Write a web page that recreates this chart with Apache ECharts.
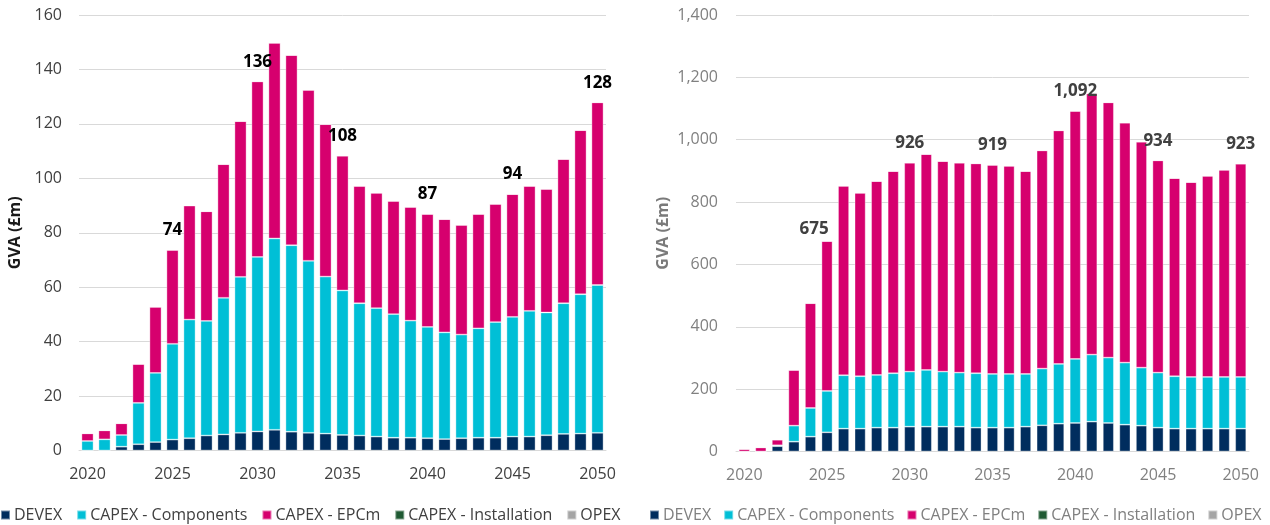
<!DOCTYPE html>
<html>
<head>
<meta charset="utf-8">
<script src="https://cdn.jsdelivr.net/npm/echarts@6/dist/echarts.min.js"></script>
<style>
html,body{margin:0;padding:0;background:#fff;}
#chart{width:1270px;height:525px;}
</style>
</head>
<body>
<div id="chart"></div>
<script>
const years = [];
for (let y = 2020; y <= 2050; y++) years.push(String(y));
const labelYears = ['2025','2030','2035','2040','2045','2050'];
const seriesNames = ['DEVEX','CAPEX - Components','CAPEX - EPCm','CAPEX - Installation','OPEX'];

// Left chart (GVA £m)
const leftDevex = [0,0,1.4,2.3,3.1,4.0,4.5,5.5,5.9,6.5,7.0,7.6,6.9,6.5,6.2,5.7,5.5,5.1,4.7,4.7,4.5,4.2,4.5,4.7,4.7,5.1,5.1,5.6,6.1,6.2,6.5];
const leftComp = [3.5,4.1,4.3,15.2,25.4,35.2,43.6,42.1,50.2,57.3,64.1,70.3,68.5,63.2,57.7,53.1,48.6,47.2,45.4,43.0,40.9,39.2,38.1,40.2,42.5,44.0,46.2,45.1,48.0,51.2,54.3];
const leftEpcm = [2.8,3.3,4.3,14.3,24.3,34.5,41.9,40.3,49.1,57.2,64.5,71.9,69.9,62.8,56.0,49.5,43.1,42.4,41.6,41.8,41.5,41.6,40.3,42.0,43.4,45.1,45.9,45.4,53.0,60.3,67.1];
const leftInstall = years.map(() => 0);
const leftOpex = years.map(() => 0);

// Right chart (GVA £m)
const rightDevex = [0,0,17,31.5,47.6,61.5,73.3,73.3,76.5,76.5,79.7,79.7,79.7,79.7,76.5,76.5,76.5,79.7,84.0,89.3,91.5,95.8,91.5,86.1,82.9,76.5,73.3,73.3,73.3,73.3,73.3];
const rightComp = [0,0,3,51.4,92.0,132.7,171.2,168.0,169.1,174.4,176.6,181.9,176.6,173.3,174.5,172.3,172.3,169.1,181.9,191.6,205.5,215.0,209.7,199.0,186.1,176.5,168.0,165.9,165.9,165.9,165.9];
const rightEpcm = [8,13,18,178.7,336.1,481.0,607.8,588.6,621.8,648.6,669.9,692.4,675.3,673.2,673.0,670.6,667.7,650.7,699.8,749.0,795.2,837.9,818.6,769.5,724.6,680.8,635.7,625.0,645.2,664.5,683.9];
const rightInstall = years.map(() => 0);
const rightOpex = years.map(() => 0);

const colors = ['#002d5e','#00bfd6','#d6006e','#1f5a33','#a5a5a5'];
const FONT = '"Open Sans", sans-serif';

function totals(a,b,c,d,e){ return a.map((v,i)=>v+b[i]+c[i]+d[i]+e[i]); }
const leftTotals = totals(leftDevex,leftComp,leftEpcm,leftInstall,leftOpex);
const rightTotals = totals(rightDevex,rightComp,rightEpcm,rightInstall,rightOpex);

function fmt(v){ return Math.round(v).toLocaleString('en-US'); }

function buildSeries(idx, arrays, tot, labelColor, specialOffsets, barW){
  return arrays.map((arr, k) => {
    const s = {
      name: seriesNames[k],
      type: 'bar',
      stack: 'st' + idx,
      xAxisIndex: idx,
      yAxisIndex: idx,
      barWidth: barW,
      itemStyle: { color: colors[k], borderColor: 'rgba(255,255,255,0.45)', borderWidth: 0.8 },
      emphasis: { disabled: true },
      data: arr.slice()
    };
    if (k === 2) {
      s.data = arr.map((v, i) => {
        const item = { value: v };
        if (specialOffsets[years[i]]) item.label = { offset: specialOffsets[years[i]] };
        return item;
      });
      s.label = {
        show: true,
        position: 'top',
        distance: 11,
        fontFamily: FONT,
        fontSize: 17,
        fontWeight: 'bold',
        color: labelColor,
        formatter: p => labelYears.includes(years[p.dataIndex]) ? fmt(tot[p.dataIndex]) : ''
      };
    }
    return s;
  });
}

const chart = echarts.init(document.getElementById('chart'), null, { renderer: 'canvas' });

const leftTick = '#404040';
const rightTick = '#808080';

chart.setOption({
  animation: false,
  backgroundColor: '#ffffff',
  grid: [
    { left: 79, top: 15, width: 527, height: 435.5 },
    { left: 736, top: 15, width: 513, height: 436.5 }
  ],
  legend: [
    {
      left: -5, top: 502, itemWidth: 9, itemHeight: 9, itemGap: 14, icon: 'rect',
      textStyle: { fontFamily: FONT, fontSize: 16, color: leftTick, padding: [0,0,0,-1] },
      data: seriesNames
    },
    {
      left: 644, top: 502, itemWidth: 9, itemHeight: 9, itemGap: 12, icon: 'rect',
      textStyle: { fontFamily: FONT, fontSize: 16, color: rightTick, padding: [0,0,0,-1] },
      data: seriesNames
    }
  ],
  xAxis: [
    {
      type: 'category', gridIndex: 0, data: years,
      axisLine: { lineStyle: { color: '#d9d9d9', width: 1 } },
      axisTick: { show: false },
      axisLabel: { interval: 4, margin: 16, fontFamily: FONT, fontSize: 16, color: leftTick }
    },
    {
      type: 'category', gridIndex: 1, data: years,
      axisLine: { lineStyle: { color: '#d9d9d9', width: 1 } },
      axisTick: { show: false },
      axisLabel: { interval: 4, margin: 16, fontFamily: FONT, fontSize: 16, color: rightTick }
    }
  ],
  yAxis: [
    {
      type: 'value', gridIndex: 0, min: 0, max: 160, interval: 20,
      name: 'GVA (£m)', nameLocation: 'middle', nameRotate: 90, nameGap: 56,
      nameTextStyle: { fontFamily: FONT, fontSize: 16, fontWeight: 'bold', color: '#1a1a1a' },
      axisLine: { show: false }, axisTick: { show: false },
      splitLine: { lineStyle: { color: '#d9d9d9', width: 1 } },
      axisLabel: { margin: 17, fontFamily: FONT, fontSize: 16, color: leftTick }
    },
    {
      type: 'value', gridIndex: 1, min: 0, max: 1400, interval: 200,
      name: 'GVA (£m)', nameLocation: 'middle', nameRotate: 90, nameGap: 65,
      nameTextStyle: { fontFamily: FONT, fontSize: 16, fontWeight: 'bold', color: '#7a7a7a' },
      axisLine: { show: false }, axisTick: { show: false },
      splitLine: { lineStyle: { color: '#d9d9d9', width: 1 } },
      axisLabel: { margin: 18, fontFamily: FONT, fontSize: 16, color: rightTick,
        formatter: v => v.toLocaleString('en-US') }
    }
  ],
  series: [].concat(
    buildSeries(0, [leftDevex,leftComp,leftEpcm,leftInstall,leftOpex], leftTotals, '#000000', {}, 12),
    buildSeries(1, [rightDevex,rightComp,rightEpcm,rightInstall,rightOpex], rightTotals, '#404040', {'2025':[-13,8]}, 11)
  )
});
</script>
</body>
</html>
